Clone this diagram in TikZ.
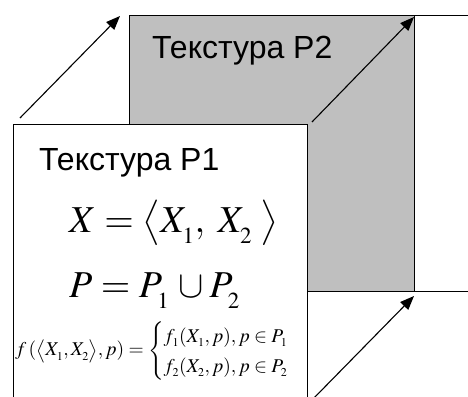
\documentclass[tikz,border=0pt]{standalone}
\usepackage{amsmath}
\usepackage{mathptmx}
\usepackage[no-math]{fontspec}
\setmainfont{Liberation Sans}
\usetikzlibrary{arrows.meta}
\newcommand{\bsub}[1]{_{\lower6pt\hbox{\fontsize{23}{23}\selectfont$#1$}}}
\newcommand{\ssub}[1]{_{\lower1.5pt\hbox{\fontsize{12}{12}\selectfont$#1$}}}

\begin{document}
\begin{tikzpicture}[x=1pt, y=-1pt,
  box/.style={draw, line width=1pt, rectangle, inner sep=0pt, anchor=north west},
  txt/.style={inner sep=0pt, anchor=base west},
  arr/.style={line width=1.1pt, -{Triangle[length=14pt, width=11pt]}}]
\useasboundingbox (0,0) rectangle (468,396);
\clip (0,0) rectangle (468,396);
% boxes, back to front
\node[box, fill=white, minimum width=90pt, minimum height=276pt] (p3) at (414,15) {};
\node[box, fill=gray!50, minimum width=285pt, minimum height=276pt] (p2) at (129,15) {};
\node[box, fill=white, minimum width=294pt, minimum height=300pt] (p1) at (13,124) {};
% labels
\node[txt, font=\fontsize{32}{36}\selectfont] (t2) at (152,59) {Текстура P2};
\node[txt, font=\fontsize{32}{36}\selectfont] (t1) at (39,170) {Текстура P1};
\node[txt, font=\fontsize{38}{42}\selectfont] (eqx) at (69,232)
  {$X=\bigl\langle X\bsub{1},\;X\bsub{2}\;\bigr\rangle$};
\node[txt, font=\fontsize{38}{42}\selectfont] (eqp) at (69,297) {$P=P\bsub{1}\,\cup P\bsub{2}$};
\node[inner sep=0pt, anchor=west, font=\fontsize{19.5}{25}\selectfont] (eqf) at (15,351)
  {$f\,(\bigl\langle X\ssub{1},X\ssub{2}\bigr\rangle,p)=\begin{cases}f\ssub{1}(X\ssub{1},p),p\in P\ssub{1}\\ f\ssub{2}(X\ssub{2},p),p\in P\ssub{2}\end{cases}$};
% arrows
\coordinate (s3) at (313,399);
\draw[arr] ([shift={(7,-6)}]p1.north west) -- ([shift={(-9,1)}]p2.north west);
\draw[arr] ([shift={(4,-2)}]p1.north east) -- ([shift={(-1,2)}]p2.north east);
\draw[arr] (s3) -- ([shift={(-1,4)}]p2.south east);
\end{tikzpicture}
\end{document}
